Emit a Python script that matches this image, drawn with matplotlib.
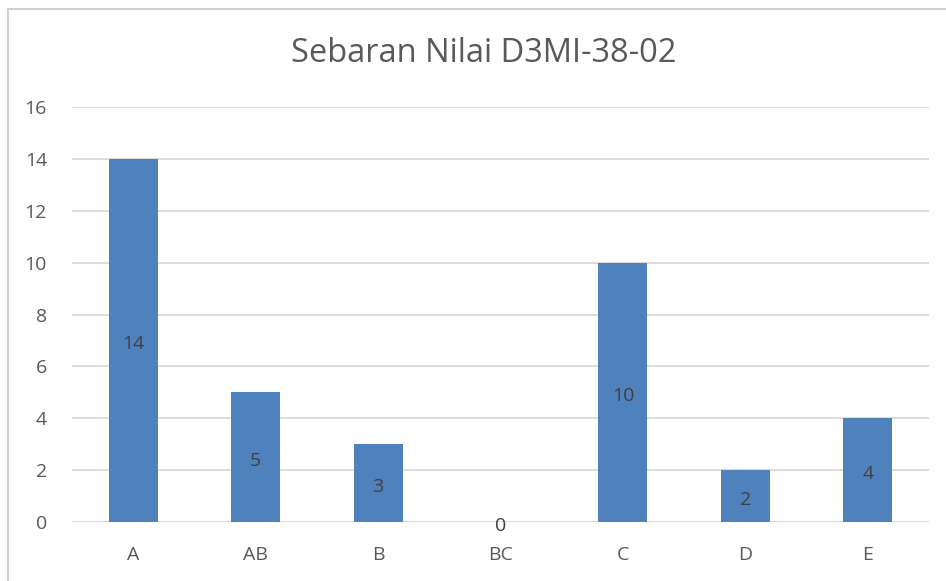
"""Bar chart: Sebaran Nilai D3MI-38-02."""

import matplotlib.pyplot as plt
from matplotlib.patches import Rectangle

grades = ["A", "AB", "B", "BC", "C", "D", "E"]
counts = [14, 5, 3, 0, 10, 2, 4]
y_ticks = [0, 2, 4, 6, 8, 10, 12, 14, 16]

BAR_COLOR = "#4F81BD"
TEXT_COLOR = "#595959"
LABEL_COLOR = "#404040"
GRID_COLOR = "#D9D9D9"

plt.rcParams["font.family"] = ["Open Sans", "DejaVu Sans"]

figure = plt.figure(figsize=(9.46, 5.81), dpi=100)
axes = figure.add_axes([0.0761, 0.1015, 0.906, 0.7143])

positions = range(len(grades))
bars = axes.bar(positions, counts, width=0.4, color=BAR_COLOR, zorder=2)

# labels sit a little below the bar middle, as in the original
for bar, value in zip(bars, counts):
    axes.text(
        bar.get_x() + bar.get_width() / 2,
        value / 2 - 0.15,
        str(value),
        ha="center",
        va="center",
        fontsize=14,
        color=LABEL_COLOR,
        zorder=3,
    )

axes.set_xlim(-0.5, len(grades) - 0.5)
axes.set_ylim(0, 16)
axes.set_yticks(y_ticks)
axes.set_xticks(list(positions))
axes.set_xticklabels(grades)
axes.grid(axis="y", color=GRID_COLOR, linewidth=1.3, zorder=0)
axes.tick_params(
    axis="both",
    length=0,
    labelsize=14,
    labelcolor=TEXT_COLOR,
)
axes.tick_params(axis="y", pad=18)
axes.tick_params(axis="x", pad=17)
for spine in axes.spines.values():
    spine.set_visible(False)

figure.text(
    0.511,
    0.908,
    "Sebaran Nilai D3MI-38-02",
    ha="center",
    va="center",
    fontsize=23.5,
    color=TEXT_COLOR,
)

# chart-area border, running off the right and bottom of the image
figure.patches.append(
    Rectangle(
        (8 / 946, -0.05),
        1.0,
        1 - 9 / 581 + 0.05,
        transform=figure.transFigure,
        fill=False,
        edgecolor="#D0D0D0",
        linewidth=1.5,
    )
)

figure.savefig("out.png", dpi=100)
